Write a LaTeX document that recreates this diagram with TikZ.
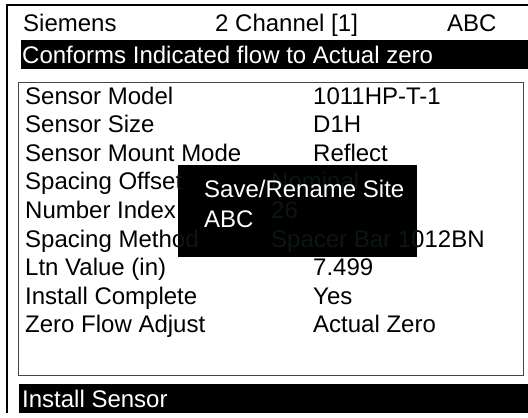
\documentclass[tikz,border=0pt]{standalone}
\usepackage{fontspec}
\setmainfont{Liberation Sans}
\usepackage{xcolor}
\usetikzlibrary{positioning}

\definecolor{ghost}{RGB}{11,22,16}
\definecolor{boxline}{RGB}{70,70,70}

\begin{document}
\begin{tikzpicture}[x=1bp,y=-1bp,
  txt/.style={anchor=base west,inner sep=0pt,font=\fontsize{24bp}{28bp}\selectfont},
  inv/.style={txt,text=white},
  faint/.style={txt,text=ghost}]
  \useasboundingbox (0,0) rectangle (528,417);

  % outer frame and the two black bars
  \draw[line width=1.2bp] (7,413) -- (7,5) -- (528,5);
  \fill[black] (21,40) rectangle (528,69);
  \fill[black] (19,384) rectangle (528,413);
  \draw[boxline,line width=1bp] (18,82) rectangle (523,375);

  % title line
  \node[txt] (maker) at (23,31) {Siemens};
  \node[txt] (chan) at (215,31) {2 Channel [1]};
  \node[txt] (site) at (447,31) {ABC};
  \node[inv] (hint) at (22,63) {Conforms Indicated flow to Actual zero};

  % parameter list
  \node[txt] (k1) at (25,104) {Sensor Model};
  \node[txt] (v1) at (313,104) {1011HP-T-1};
  \node[txt] (k2) at (25,132.6) {Sensor Size};
  \node[txt] (v2) at (313,132.6) {D1H};
  \node[txt] (k3) at (25,161.2) {Sensor Mount Mode};
  \node[txt] (v3) at (313,161.2) {Reflect};
  \node[txt] (k4) at (25,189.8) {Spacing Offset};
  \node[txt] (v4) at (271,189.8) {Nominal};
  \node[txt] (k5) at (25,218.4) {Number Index};
  \node[txt] (v5) at (271,218.4) {26};
  \node[txt] (k6) at (25,247) {Spacing Method};
  \node[txt] (v6) at (271,247) {Spacer Bar 1012BN};
  \node[txt] (k7) at (25,275.6) {Ltn Value (in)};
  \node[txt] (v7) at (313,275.6) {7.499};
  \node[txt] (k8) at (25,304.2) {Install Complete};
  \node[txt] (v8) at (313,304.2) {Yes};
  \node[txt] (k9) at (25,332.8) {Zero Flow Adjust};
  \node[txt] (v9) at (313,332.8) {Actual Zero};

  \node[inv] (menu) at (22,407) {Install Sensor};

  % pop-up over the list
  \node[fill=black,inner sep=0pt,minimum width=239bp,minimum height=92bp,
        anchor=north west] (popup) at (178,165) {};
  \begin{scope}
    \clip (popup.north west) rectangle (popup.south east);
    \node[faint] (gk4) at (k4.base west) {Spacing Offset};
    \node[faint] (gv4) at (v4.base west) {Nominal};
    \node[faint] (gv5) at (v5.base west) {26};
    \node[faint] (gk6) at (k6.base west) {Spacing Method};
    \node[faint] (gv6) at (v6.base west) {Spacer Bar 1012BN};
  \end{scope}
  \node[inv] (save) at (204,197) {Save/Rename Site};
  \node[inv] (name) at (204,227) {ABC};
\end{tikzpicture}
\end{document}
